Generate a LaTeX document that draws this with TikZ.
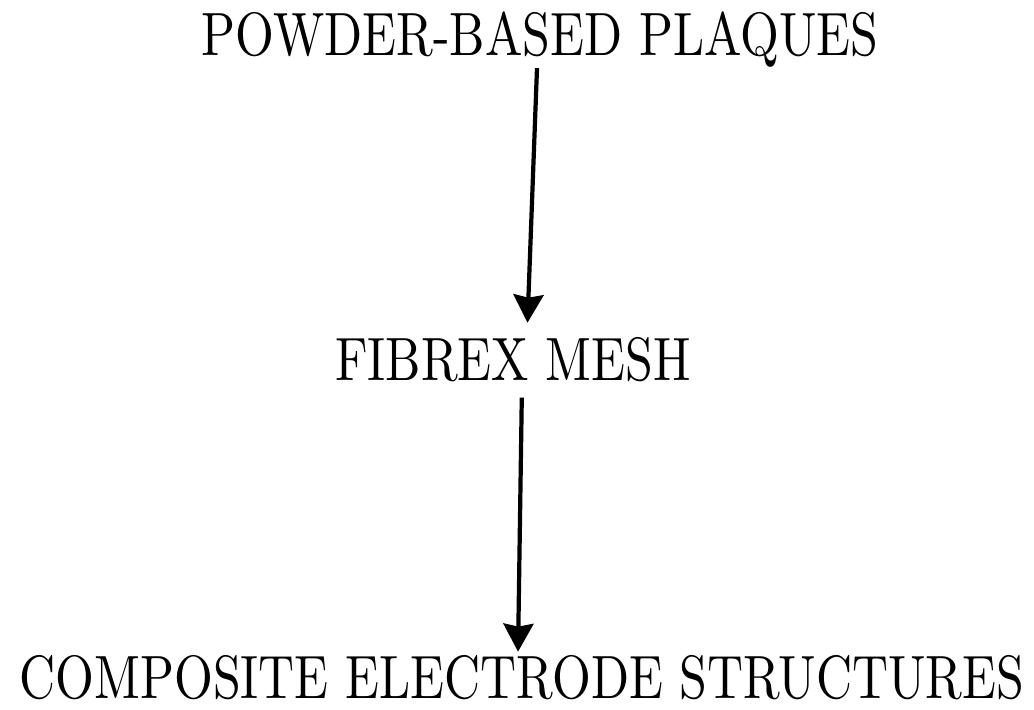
\documentclass[tikz,border=0pt]{standalone}
\usepackage{amsmath}
\usepackage{xcolor}
\usetikzlibrary{arrows.meta}

\begin{document}
\begin{tikzpicture}[
  lbl/.style={inner sep=0pt, anchor=base, font=\fontsize{10}{12}\selectfont, xscale=1.42, yscale=1.74, transform shape},
  arr/.style={-{Stealth[length=0.28cm, width=0.30cm, inset=0.03cm]}, line width=1.2pt}
]
  \useasboundingbox (0,0) rectangle (10.34,7.09);
  \node[lbl] (pl)  at (5.40, 6.54) {POWDER-BASED PLAQUES};
  \node[lbl] (fm)  at (5.13, 3.29) {FIBREX MESH};
  \node[lbl] (ces) at (5.22, 0.11) {COMPOSITE ELECTRODE STRUCTURES};

  \draw[arr, shorten >=0.13cm] ([xshift=-0.03cm]pl.south) -- ([xshift=0.14cm]fm.north);
  \draw[arr, shorten <=0.15cm, shorten >=0.02cm] ([xshift=0.09cm]fm.south) -- ([xshift=-0.04cm]ces.north);
\end{tikzpicture}
\end{document}
